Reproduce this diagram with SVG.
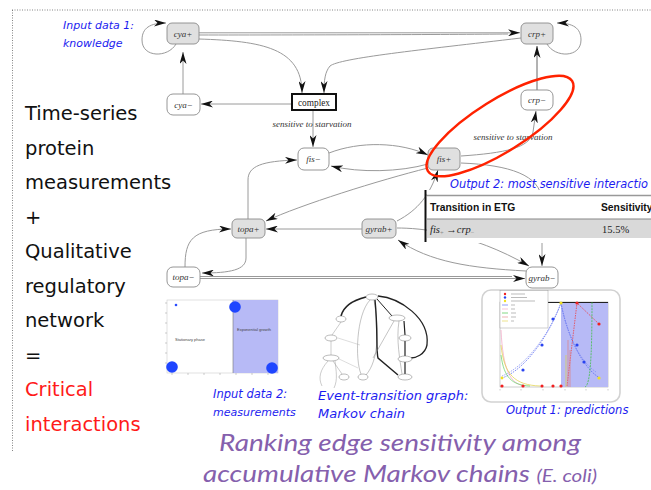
<svg xmlns="http://www.w3.org/2000/svg" width="651" height="490" viewBox="0 0 651 490">
<defs>
<marker id="ah" viewBox="0 0 12 7" markerWidth="12" markerHeight="7" refX="12" refY="3.5" orient="auto" markerUnits="userSpaceOnUse"><path d="M0,0 L12,3.5 L0,7 L3.5,3.5 z" fill="#111"/></marker>
<style>
.n rect{stroke:#8a8a8a;stroke-width:0.9}
.p{fill:#e0e0e0}
.m{fill:#fff}
.nt{font-family:"Liberation Serif",serif;font-style:italic;font-size:9px;fill:#333;text-anchor:middle}
.e{fill:none;stroke:#9a9a9a;stroke-width:1;marker-end:url(#ah)}
.ln{fill:none;stroke:#9a9a9a;stroke-width:1}
.big{font-family:"DejaVu Sans",sans-serif;font-size:19.5px;fill:#111}
.blue{font-family:"DejaVu Sans",sans-serif;font-style:italic;font-size:11.5px;fill:#1c1cf0}
.lab{font-family:"Liberation Serif",serif;font-style:italic;font-size:9px;fill:#333;text-anchor:middle}
.tiny{font-family:"Liberation Sans",sans-serif;font-size:4px;fill:#444}
.mc{fill:#fff;stroke:#777;stroke-width:0.5}
</style>
</defs>

<!-- dotted frame -->
<path d="M12,10 L651,10 M12.5,10 L12.5,452" fill="none" stroke="#666" stroke-width="0.8" stroke-dasharray="1,1.5"/>

<!-- left text -->
<g id="left-text">
<text class="big" x="25" y="120">Time-series</text>
<text class="big" x="25" y="154.5">protein</text>
<text class="big" x="25" y="189">measurements</text>
<text class="big" x="25" y="223.5">+</text>
<text class="big" x="25" y="258">Qualitative</text>
<text class="big" x="25" y="292.5">regulatory</text>
<text class="big" x="25" y="327">network</text>
<text class="big" x="25" y="361.5">=</text>
<text class="big" x="25" y="396" style="fill:#ff1a1a">Critical</text>
<text class="big" x="25" y="430.5" style="fill:#ff1a1a">interactions</text>
</g>

<!-- connectors -->
<g id="edges">
<path class="e" d="M176,44 C168,58 142,58 142,40 C142,28 150,23 166,23"/>
<path class="e" d="M547,44 C555,58 581,58 581,40 C581,28 573,23 557,23"/>
<path class="e" d="M199,32.8 L520,32.8"/>
<path class="ln" d="M199,35 C300,35 450,34.6 508,34"/>
<path class="e" d="M199,39 C262,41 302,48 302,93"/>
<path class="e" d="M521,38 C420,50 340,58 330,66 C325,72 324,80 324,93"/>
<path class="e" d="M292,104 L201,104"/>
<path class="e" d="M183,94 L183,52"/>
<path class="e" d="M313,110 L313,147"/>
<path class="e" d="M537,90 L537,46" style="stroke:#666"/>
<path class="e" d="M461,156 C505,153 530,148 533,132 L536,111"/>
<path class="e" d="M329,153 C360,141 400,142 428,155"/>
<path class="e" d="M428,164 C400,172 360,173 331,166"/>
<path class="e" d="M428,168 C380,180 300,205 266,221"/>
<path class="e" d="M362,229 L266,229"/>
<path class="e" d="M248,219 L248,180 C248,166 262,161 297,160"/>
<path class="e" d="M246,238 L246,258 C246,270 230,273 202,273"/>
<path class="e" d="M185,267 C185,240 192,229 231,229"/>
<path class="e" d="M200,278.5 L525,278.5"/>
<path class="ln" d="M200,276.5 L512,276.5"/>
<path class="e" d="M526,271 C470,268 430,262 398,240"/>
<path class="e" d="M397,221 C418,210 430,195 438,170"/>
<path class="e" d="M461,163 C510,165 540,175 542,200 L542,266"/>
<path class="e" d="M397,228 C420,228 470,232 529,266"/>
<text class="lab" x="312" y="127">sensitive to starvation</text>
<text class="lab" x="513" y="140">sensitive to starvation</text>
</g>

<!-- nodes -->
<g id="cya-plus" class="n"><rect class="p" x="167" y="23" width="32" height="21" rx="5"/><text class="nt" x="183" y="36.5">cya+</text></g>
<g id="crp-plus" class="n"><rect class="p" x="521" y="23" width="32" height="21" rx="5"/><text class="nt" x="537" y="36.5">crp+</text></g>
<g id="cya-minus" class="n"><rect class="m" x="167" y="94" width="33" height="21" rx="6"/><text class="nt" x="183.5" y="107.5">cya−</text></g>
<g id="complex"><rect x="292" y="94" width="44" height="16" fill="#fff" stroke="#111" stroke-width="2"/><text x="314" y="105.5" style="font-family:'Liberation Serif',serif;font-size:9.3px;fill:#222;text-anchor:middle">complex</text></g>
<g id="crp-minus" class="n"><rect class="m" x="521" y="90" width="32" height="20" rx="6"/><text class="nt" x="537" y="103">crp−</text></g>
<g id="fis-minus" class="n"><rect class="m" x="298" y="148" width="31" height="22" rx="6"/><text class="nt" x="313.5" y="162">fis−</text></g>
<g id="fis-plus" class="n"><rect class="p" x="428" y="148" width="32" height="22" rx="5"/><text class="nt" x="444" y="162">fis+</text></g>
<g id="topa-plus" class="n"><rect class="p" x="232" y="219" width="33" height="19" rx="5"/><text class="nt" x="248.5" y="231.5">topa+</text></g>
<g id="gyrab-plus" class="n"><rect class="p" x="362" y="219" width="34" height="19" rx="5"/><text class="nt" x="379" y="231.5">gyrab+</text></g>
<g id="topa-minus" class="n"><rect class="m" x="167" y="267" width="33" height="20" rx="6"/><text class="nt" x="183.5" y="280">topa−</text></g>
<g id="gyrab-minus" class="n"><rect class="m" x="526" y="267" width="32" height="21" rx="6"/><text class="nt" x="542" y="280.5">gyrab−</text></g>

<!-- highlight ellipse -->
<ellipse cx="500" cy="126" rx="85" ry="26" transform="rotate(-32 500 126)" fill="none" stroke="#ff2200" stroke-width="2.5"/>

<!-- blue labels -->
<text class="blue" x="63" y="29" style="font-size:11px">Input data 1:</text>
<text class="blue" x="63" y="47" style="font-size:11px">knowledge</text>
<text class="blue" x="450" y="188" textLength="198" lengthAdjust="spacingAndGlyphs">Output 2: most sensitive interactio</text>

<!-- table -->
<g id="table">
<rect x="427" y="190" width="224" height="53" fill="#fff"/>
<line x1="427" y1="195.5" x2="651" y2="195.5" stroke="#999" stroke-width="1.5"/>
<rect x="427" y="219" width="224" height="19" fill="#d9d9d9"/>
<line x1="427" y1="219" x2="651" y2="219" stroke="#888" stroke-width="1.2"/>
<line x1="425.5" y1="190" x2="425.5" y2="242" stroke="#111" stroke-width="2"/>
<text x="430" y="210.5" style="font-family:'Liberation Sans',sans-serif;font-weight:bold;font-size:10.3px;fill:#111">Transition in ETG</text>
<text x="601" y="210.5" style="font-family:'Liberation Sans',sans-serif;font-weight:bold;font-size:10.3px;fill:#111">Sensitivity</text>
<text x="430" y="233" style="font-family:'Liberation Serif',serif;font-size:10.5px;fill:#222"><tspan font-style="italic">fis</tspan><tspan font-size="6.5px" fill="#888" dy="2">+</tspan><tspan dy="-2"> →</tspan><tspan font-style="italic">crp</tspan><tspan font-size="6.5px" fill="#888" dy="2">−</tspan></text>
<text x="602" y="233" style="font-family:'Liberation Serif',serif;font-size:10.5px;fill:#222">15.5%</text>
</g>

<!-- thumbnail: measurements -->
<g id="measurements-plot">
<rect x="167" y="300" width="111" height="73" fill="#fff" stroke="#ccc" stroke-width="0.6"/>
<rect x="233" y="300" width="45" height="73" fill="#b7baf6"/>
<line x1="233" y1="300" x2="233" y2="373" stroke="#777" stroke-width="0.6"/>
<path d="M165,303 h2 M165,313 h2 M165,323 h2 M165,333 h2 M165,343 h2 M165,353 h2 M165,363 h2 M172,373 v2 M188,373 v2 M204,373 v2 M220,373 v2 M236,373 v2 M252,373 v2 M268,373 v2" stroke="#999" stroke-width="0.5"/>
<circle cx="176" cy="305" r="1.3" fill="#2a4cff"/>
<circle cx="172" cy="367" r="5.8" fill="#1f45ff"/>
<circle cx="235" cy="307" r="5.8" fill="#1f45ff"/>
<circle cx="272" cy="368" r="5.8" fill="#1f45ff"/>
<text class="tiny" x="175" y="341">Stationary phase</text>
<text class="tiny" x="237" y="331">Exponential growth</text>
</g>
<text class="blue" x="213" y="398">Input data 2:</text>
<text class="blue" x="213" y="416" style="font-size:11px">measurements</text>

<!-- thumbnail: event-transition graph -->
<g id="etg-plot">
<g fill="none" stroke="#222">
<path d="M366,297 C350,301 343,308 341,316" stroke-width="1.6"/>
<path d="M370,300 C356,315 355,360 361,374" stroke-width="0.5" stroke="#888"/>
<path d="M374,300 C379,330 379,360 366,375" stroke-width="0.5" stroke="#888"/>
<path d="M375,300 C378,330 376,352 378,358 L398,375" stroke-width="1.4"/>
<path d="M377,299 L392,316" stroke-width="1"/>
<path d="M378,296 C400,298 430,318 427,345 C425,355 415,358 411,358" stroke-width="1.3"/>
<path d="M404,321 L405,335 M405,341 L405,356 M405,362 L405,374" stroke-width="1.2"/>
<path d="M399,321 C396,340 400,360 402,374" stroke-width="0.5" stroke="#888"/>
<path d="M394,321 L373,358" stroke-width="0.5" stroke="#888"/>
<path d="M341,322 L332,335 M331,341 L331,355 M333,361 L342,374 M328,361 C320,370 318,378 322,386 M335,361 C336,370 338,380 334,388" stroke-width="0.5" stroke="#999"/>
<path d="M338,338 L360,345 M337,358 L358,368" stroke-width="0.4" stroke="#aaa"/>
</g>
<ellipse class="mc" cx="372" cy="297" rx="6" ry="3"/>
<ellipse class="mc" cx="341" cy="319" rx="5" ry="3"/>
<ellipse class="mc" cx="331" cy="338" rx="6" ry="3"/>
<ellipse class="mc" cx="331" cy="358" rx="8" ry="3"/>
<ellipse class="mc" cx="344" cy="377" rx="5" ry="3"/>
<ellipse class="mc" cx="363" cy="377" rx="5" ry="3"/>
<ellipse class="mc" cx="397" cy="318" rx="8" ry="3"/>
<ellipse class="mc" cx="405" cy="338" rx="6" ry="3"/>
<ellipse class="mc" cx="405" cy="359" rx="7" ry="3"/>
<ellipse class="mc" cx="405" cy="377" rx="7" ry="3"/>
</g>
<text class="blue" x="318" y="400" style="font-size:13px">Event-transition graph:</text>
<text class="blue" x="318" y="418" style="font-size:13px">Markov chain</text>

<!-- thumbnail: predictions -->
<g id="predictions-plot">
<rect x="482" y="290" width="138" height="112" rx="9" fill="#fff" stroke="#d2d2d2" stroke-width="1.6"/>
<rect x="500" y="302" width="108" height="85" fill="#fff" stroke="#999" stroke-width="0.5"/>
<rect x="561" y="302" width="47" height="85" fill="#b7baf6"/>
<line x1="548" y1="302.5" x2="608" y2="302.5" stroke="#222" stroke-width="1"/>
<g fill="none" stroke-width="0.7">
<path d="M502,378 C520,372 545,345 561,303" stroke="#4a5cf0" stroke-dasharray="1.5,1"/>
<path d="M502,376 C522,368 547,340 561,303" stroke="#7a88f0" stroke-dasharray="1.5,1"/>
<path d="M561,303 C568,340 585,370 600,378" stroke="#4a5cf0" stroke-dasharray="1.5,1"/>
<path d="M561,303 C566,330 578,360 596,372" stroke="#7a88f0" stroke-dasharray="1.5,1"/>
<path d="M567,386 L577,303 L599,324" stroke="#f03030" stroke-dasharray="1.5,1"/>
<path d="M585,387 C590,385 592,360 592,302" stroke="#30c030" stroke-dasharray="2,1"/>
<path d="M501,330 C503,370 510,384 525,386" stroke="#f0a0c0"/>
<path d="M501,345 C504,375 515,385 540,386" stroke="#e0d040"/>
<path d="M501,355 C504,378 512,385 530,386" stroke="#60d060"/>
<path d="M568,340 L568,387 M570,350 L570,387" stroke="#e08080"/>
<path d="M566,355 L566,387" stroke="#e0d040"/>
</g>
<g fill="#2a44f0">
<circle cx="523" cy="370" r="1.6"/><circle cx="542" cy="345" r="1.6"/><circle cx="553" cy="319" r="1.6"/><circle cx="577" cy="345" r="1.6"/><circle cx="584" cy="362" r="1.6"/>
</g>
<g fill="#f02020">
<circle cx="502" cy="386" r="1.6"/><circle cx="523" cy="386" r="1.6"/><circle cx="542" cy="386" r="1.6"/><circle cx="553" cy="386" r="1.6"/><circle cx="561" cy="386" r="1.6"/><circle cx="577" cy="303" r="1.6"/><circle cx="599" cy="324" r="1.6"/>
</g>
<g fill="#f0e020">
<circle cx="561" cy="303" r="1.6"/><circle cx="599" cy="378" r="1.6"/><circle cx="502" cy="378" r="1.4"/>
</g>
<rect x="500" y="290.5" width="48" height="37.5" fill="#fff" stroke="#888" stroke-width="0.4"/>
<circle cx="505" cy="294" r="1.2" fill="#f02020"/>
<circle cx="505" cy="297.5" r="1.2" fill="#2a44f0"/>
<circle cx="505" cy="301" r="1.2" fill="#f0e020"/>
<path d="M502,305 h6" stroke="#4a5cf0" stroke-width="0.6"/>
<path d="M502,309 h6" stroke="#f0a0c0" stroke-width="0.6"/>
<path d="M502,313 h6" stroke="#30c030" stroke-width="0.6"/>
<path d="M502,317 h6" stroke="#e08080" stroke-width="0.6"/>
<path d="M502,321 h6" stroke="#e0d040" stroke-width="0.6"/>
<path d="M511,294 h14 M511,297.5 h16 M511,301 h24 M511,305 h4 M511,309 h4 M511,313 h5 M511,317 h5 M511,321 h3" stroke="#aaa" stroke-width="0.8"/>
<path d="M500,389 v1.5 M521,389 v1.5 M543,389 v1.5 M565,389 v1.5 M586,389 v1.5 M608,389 v1.5" stroke="#999" stroke-width="0.5"/>
</g>
<text class="blue" x="506" y="414">Output 1: predictions</text>

<!-- title -->
<g id="title" style="font-family:Lato,'DejaVu Sans',sans-serif;font-style:italic;fill:#8560ad;text-anchor:middle">
<text x="400" y="451" font-size="23" textLength="362" lengthAdjust="spacingAndGlyphs">Ranking edge sensitivity among</text>
<text x="400" y="482" font-size="23" textLength="394" lengthAdjust="spacingAndGlyphs">accumulative Markov chains <tspan font-size="17">(E. coli)</tspan></text>
</g>
</svg>
